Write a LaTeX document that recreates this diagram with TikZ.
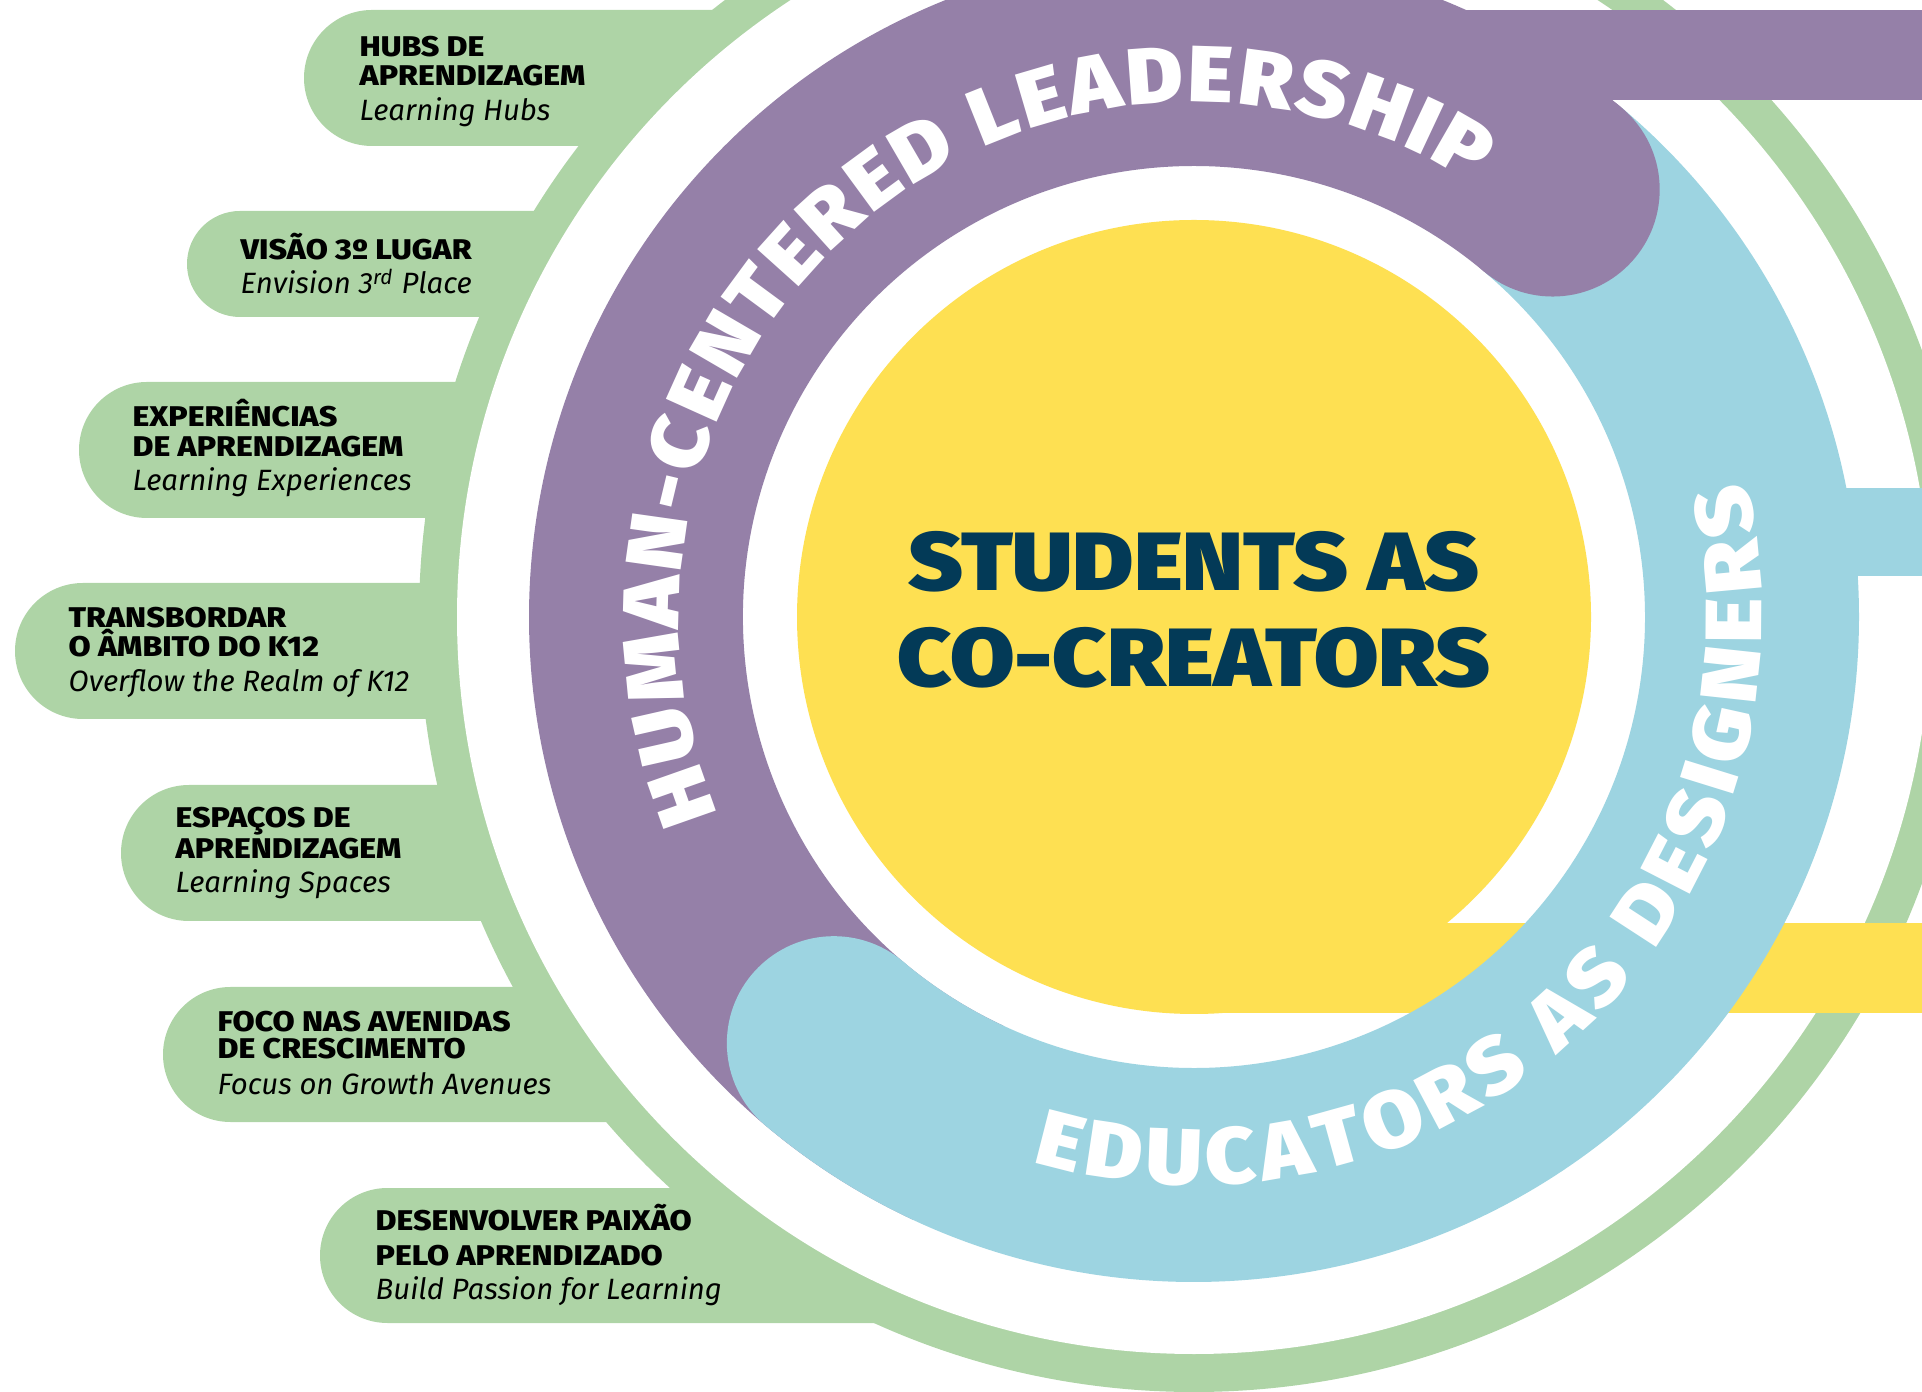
\documentclass[tikz,border=0pt]{standalone}
\usepackage{fontspec}
\setmainfont{Fira Sans}
\IfFontExistsTF{Fira Sans Black}{%
  \newfontfamily\fcenter{Fira Sans Black}[FakeStretch=1.13]%
  \newfontfamily\fcurve{Fira Sans Black}[FakeStretch=1.08]%
}{%
  \newfontfamily\fcenter{Fira Sans}[FakeStretch=1.15,FakeBold=1.5]%
  \newfontfamily\fcurve{Fira Sans}[FakeStretch=1.1,FakeBold=1.5]%
}
\IfFontExistsTF{Fira Sans ExtraBold}{%
  \newfontfamily\ftitle{Fira Sans ExtraBold}[FakeStretch=1.125]%
  \def\titlefont{\ftitle}%
}{%
  \newfontfamily\ftitle{Fira Sans}[FakeStretch=1.15]%
  \def\titlefont{\ftitle\bfseries}%
}
\usetikzlibrary{decorations.text}
\definecolor{cgreen}{HTML}{AED4A6}
\definecolor{cpurple}{HTML}{9580A8}
\definecolor{cblue}{HTML}{9DD4E1}
\definecolor{cyellow}{HTML}{FEE052}
\definecolor{cnavy}{HTML}{033A57}
\tikzset{
  tabshape/.style={fill=cgreen},
  tabtitle/.style={anchor=base west, inner sep=0pt, text=black, font=\titlefont\fontsize{8.1}{9}\selectfont},
  tabsub/.style={anchor=base west, inner sep=0pt, text=black, font=\itshape\fontsize{8.35}{9}\selectfont},
  centertext/.style={anchor=base, inner sep=0pt, text=cnavy, font=\fcenter\fontsize{23.5}{24}\selectfont},
}
\begin{document}
\begin{tikzpicture}[x=0.01cm, y=0.01cm]
\useasboundingbox (0,0) rectangle (1922,1391);
\clip (0,0) rectangle (1922,1391);
\coordinate (C) at (1194,774);
% green ring and tabs
\fill[cgreen] (C) circle[radius=775];
\fill[tabshape] (1194,1381) -- (372,1381) arc[start angle=90,end angle=270,radius=68] -- (1194,1245) -- cycle;
\fill[tabshape] (1194,1180) -- (240,1180) arc[start angle=90,end angle=270,radius=53] -- (1194,1074) -- cycle;
\fill[tabshape] (1194,1009) -- (147,1009) arc[start angle=90,end angle=270,radius=68] -- (1194,873) -- cycle;
\fill[tabshape] (1194,808) -- (83,808) arc[start angle=90,end angle=270,radius=68] -- (1194,672) -- cycle;
\fill[tabshape] (1194,606) -- (189,606) arc[start angle=90,end angle=270,radius=68] -- (1194,470) -- cycle;
\fill[tabshape] (1194,404) -- (230.5,404) arc[start angle=90,end angle=270,radius=67.5] -- (1194,269) -- cycle;
\fill[tabshape] (1194,203) -- (387.5,203) arc[start angle=90,end angle=270,radius=67.5] -- (1194,68) -- cycle;
\fill[white] (C) circle[radius=737];
% yellow centre
\fill[cyellow] (C) circle[radius=397];
\fill[cyellow] (1194,378) rectangle (1930,468);
% bars
\fill[cpurple] (1300,1291) rectangle (1930,1381);
\fill[cblue] (1700,815) rectangle (1930,903);
% purple ring
\fill[cpurple] ([shift={(50:665)}]C) arc[start angle=50,end angle=245,radius=665] -- ([shift={(245:451)}]C) arc[start angle=245,end angle=50,radius=451] -- cycle;
% blue ring
\fill[cblue] ([shift={(-130.2:665)}]C) arc[start angle=-130.2,end angle=50,radius=665] -- ([shift={(50:451)}]C) arc[start angle=50,end angle=-130.2,radius=451] -- cycle;
\fill[cblue] ([shift={(229.8:558)}]C) circle[radius=107];
\fill[cpurple] ([shift={(50:558)}]C) circle[radius=107];
% curved texts
\path[decorate, decoration={text along path, text={|\fcurve\fontsize{22.7}{23}\selectfont|HUMAN-CENTERED LEADERSHIP}, text color=white, text align=fit to path}]
  ([shift={(202.5:515)}]C) arc[start angle=202.5,end angle=57.2,radius=515];
\path[decorate, decoration={text along path, text={|\fcurve\fontsize{22.7}{23}\selectfont|EDUCATORS AS DESIGNERS}, text color=white, text align=fit to path}]
  ([shift={(253.5:568)}]C) arc[start angle=253.5,end angle=373.8,radius=568];
% centre text
\node[centertext] (s1) at (1194,800) {STUDENTS AS};
\node[centertext] (s2) at (1194,704) {CO-CREATORS};
% tab texts
\node[tabtitle] (t1a) at (359,1334) {HUBS DE};
\node[tabtitle] (t1b) at (359,1305) {APRENDIZAGEM};
\node[tabsub]   (t1c) at (359,1270) {Learning Hubs};
\node[tabtitle] (t2a) at (240,1131) {VISÃO 3º LUGAR};
\node[tabsub]   (t2b) at (240,1097) {Envision 3\textsuperscript{rd} Place};
\node[tabtitle] (t3a) at (132,964) {EXPERIÊNCIAS};
\node[tabtitle] (t3b) at (132,934) {DE APRENDIZAGEM};
\node[tabsub]   (t3c) at (132,900) {Learning Experiences};
\node[tabtitle] (t4a) at (68,763) {TRANSBORDAR};
\node[tabtitle] (t4b) at (68,734) {O ÂMBITO DO K12};
\node[tabsub]   (t4c) at (68,699) {Overflow the Realm of K12};
\node[tabtitle] (t5a) at (175,563) {ESPAÇOS DE};
\node[tabtitle] (t5b) at (175,532) {APRENDIZAGEM};
\node[tabsub]   (t5c) at (175,498) {Learning Spaces};
\node[tabtitle] (t6a) at (217,360) {FOCO NAS AVENIDAS};
\node[tabtitle] (t6b) at (217,332) {DE CRESCIMENTO};
\node[tabsub]   (t6c) at (217,297) {Focus on Growth Avenues};
\node[tabtitle] (t7a) at (375,161) {DESENVOLVER PAIXÃO};
\node[tabtitle] (t7b) at (375,126) {PELO APRENDIZADO};
\node[tabsub]   (t7c) at (375,92) {Build Passion for Learning};
\end{tikzpicture}
\end{document}
